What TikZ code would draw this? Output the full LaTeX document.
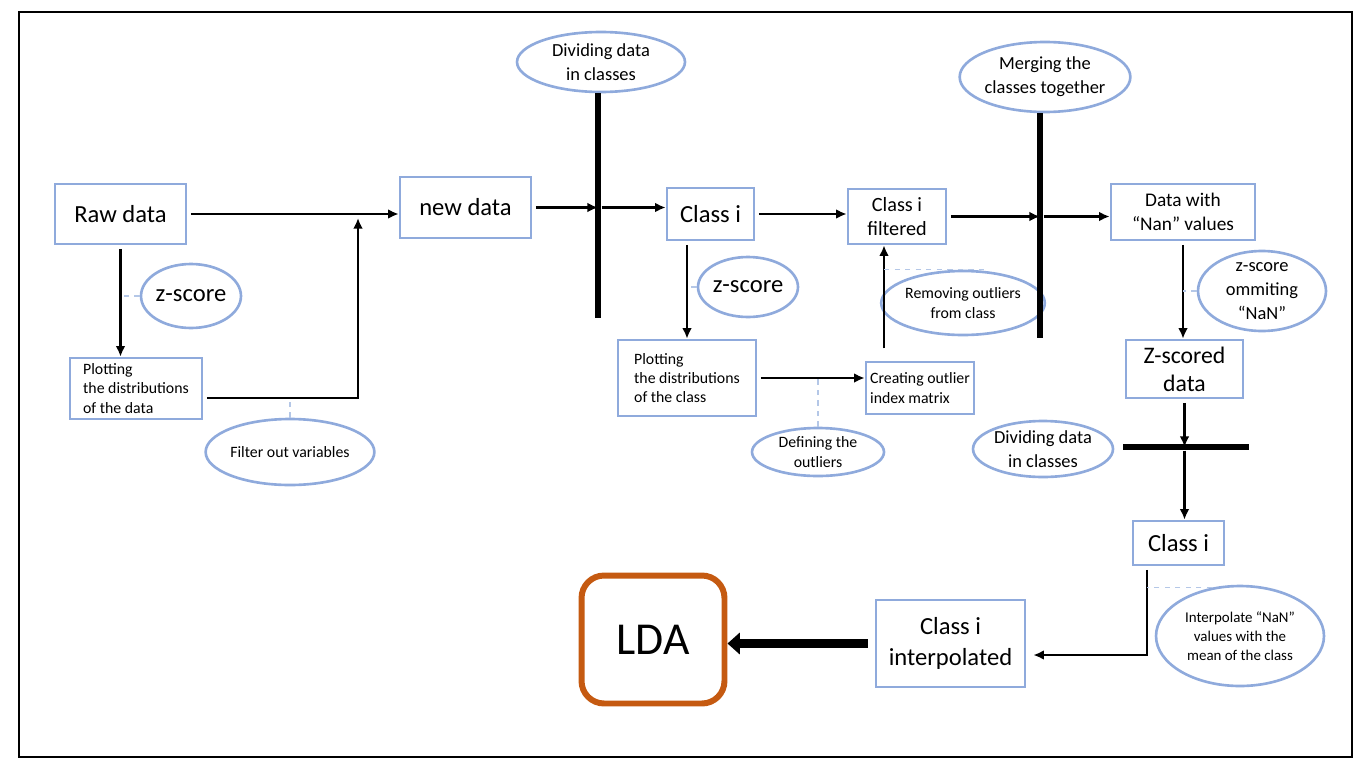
\documentclass[tikz,border=0pt]{standalone}
\usepackage{fontspec}
\setmainfont{Carlito}
\usetikzlibrary{shapes.geometric,arrows.meta}
\definecolor{boxblue}{RGB}{143,170,220}
\definecolor{hintblue}{RGB}{180,199,231}
\definecolor{ldaorange}{RGB}{197,90,17}

\begin{document}
\begin{tikzpicture}[x=0.02cm, y=-0.02cm,
    box/.style={draw=boxblue, line width=1.5pt, align=center, inner sep=2pt},
    oval/.style={ellipse, draw=boxblue, line width=1.5pt, align=center, inner sep=0pt},
    arr/.style={-{Latex[length=6pt,width=5.5pt]}, line width=1.5pt, shorten <=2pt},
    hint/.style={draw=hintblue, dashed, line width=0.8pt},
    bar/.style={line width=3.6pt},
    big/.style={font=\fontsize{14}{18}\selectfont},
    mid/.style={font=\fontsize{10.5}{13.5}\selectfont},
    small/.style={font=\fontsize{9}{11}\selectfont}]
        \useasboundingbox (0,0) rectangle (1371,764);
        \draw[line width=1.6pt] (19,12) rectangle (1352,757);

        % first stage
        \node[box, big, minimum width=2.62cm, minimum height=1.2cm] (raw) at (120.5,214) {Raw data};
        \node[box, big, minimum width=2.62cm, minimum height=1.22cm] (newd) at (465.5,207.5) {new data};
        \node[oval, big, minimum width=2cm, minimum height=1.28cm] (zs1) at (191,296) {z-score};
        \node[box, small, align=left, minimum width=2.64cm, minimum height=1.22cm] (plot1) at (136,388.5) {Plotting\\the distributions\\of the data};
        \node[oval, small, minimum width=2.64cm, minimum height=1.32cm] (fov) at (290,452) {Filter out variables};
        \coordinate (j1) at (358,218);

        \draw[arr] (raw.east) -- (raw.east -| newd.west);
        \draw[arr] (raw.south) -- (raw.south |- plot1.north);
        \draw[hint] (zs1.west) -- (zs1.west -| raw.south);
        \draw[arr] (plot1.-8) -| (j1);
        \draw[hint] (fov.north) -- (fov.north |- plot1.-8);

        % classes
        \node[oval, mid, minimum width=3.36cm, minimum height=1.2cm] (div1) at (601,62) {Dividing data\\in classes};
        \coordinate (b1) at (598,318);
        \draw[bar] (div1.south -| b1) -- (b1);
        \node[box, big, minimum width=1.74cm, minimum height=1.04cm] (cls) at (710.5,214) {Class i};
        \node[oval, big, minimum width=2cm, minimum height=1.2cm] (zs2) at (748,287) {z-score};
        \node[box, small, align=left, minimum width=2.76cm, minimum height=1.52cm] (plot2) at (687,378) {Plotting\\the distributions\\of the class};
        \node[oval, small, minimum width=2.64cm, minimum height=0.96cm] (def) at (818,452) {Defining the\\outliers};
        \node[box, small, align=left, minimum width=2.16cm, minimum height=1.04cm] (cre) at (920,388) {Creating outlier\\index matrix};
        \node[box, font=\fontsize{11.5}{14}\selectfont, minimum width=1.96cm, minimum height=1.1cm] (filt) at (897,216.5) {Class i\\filtered};
        \node[oval, small, minimum width=2.92cm, minimum height=1.28cm] (rem) at (963,303) {Removing outliers\\from class};
        \coordinate (u2) at (884,352);

        \draw[arr] (newd.east) -- (newd.east -| b1);
        \draw[arr] (newd.east -| b1) -- (newd.east -| cls.west);
        \draw[arr] (cls.south -| plot2.north) -- (plot2.north);
        \draw[hint] (zs2.west) -- (zs2.west -| plot2.north);
        \draw[arr] (plot2.east) -- (plot2.east -| cre.west);
        \draw[hint] (def.north) -- (def.north |- plot2.east);
        \draw[arr] (u2) -- (u2 |- filt.south);
        \draw[hint] (u2 |- rem.north) -- ([xshift=0.5cm]rem.north);
        \draw[arr] (cls.east) -- (cls.east -| filt.west);

        % merging
        \node[oval, mid, minimum width=3.36cm, minimum height=1.4cm] (mer) at (1045,77) {Merging the\\classes together};
        \coordinate (b2) at (1040,338);
        \draw[bar] (mer.south -| b2) -- (b2);
        \node[box, font=\fontsize{11}{14}\selectfont, minimum width=2.88cm, minimum height=1.12cm] (dat) at (1183,212) {Data with\\“Nan” values};
        \node[oval, mid, minimum width=2.56cm, minimum height=1.6cm] (zo) at (1262,291) {z-score\\ommiting\\“NaN”};
        \node[box, font=\fontsize{13.5}{16}\selectfont, minimum width=2.34cm, minimum height=1.16cm] (zsd) at (1184.5,369) {Z-scored\\data};
        \node[oval, mid, minimum width=2.8cm, minimum height=1.12cm] (div2) at (1043,449) {Dividing data\\in classes};
        \coordinate (hl) at (1123,447);
        \coordinate (hr) at (1249,447);
        \draw[bar] (hl) -- (hr);
        \node[box, big, minimum width=1.82cm, minimum height=0.88cm] (cls3) at (1178.5,543) {Class i};

        \draw[arr] (filt.east) -- (filt.east -| b2);
        \draw[arr] (filt.east -| b2) -- (filt.east -| dat.west);
        \draw[arr] (dat.south) -- (dat.south |- zsd.north);
        \draw[hint] (zo.west) -- (zo.west -| dat.south);
        \draw[arr] (zsd.south) -- (zsd.south |- hl);
        \draw[arr] (zsd.south |- hl) -- (zsd.south |- cls3.north);

        % interpolation and LDA
        \node[oval, font=\fontsize{8.5}{10.8}\selectfont, minimum width=3.36cm, minimum height=2cm] (ip) at (1240,636) {Interpolate “NaN”\\values with the\\mean of the class};
        \node[box, big, minimum width=2.98cm, minimum height=1.74cm] (interp) at (950.5,643.5) {Class i\\interpolated};
        \node[draw=ldaorange, line width=3.4pt, rounded corners=0.45cm, font=\fontsize{26}{30}\selectfont, minimum width=2.86cm, minimum height=2.56cm] (lda) at (653,639.5) {LDA};
        \coordinate (t3) at (1147,655);

        \draw[arr, shorten >=4pt] (t3 |- cls3.south) -- (t3) -- (t3 -| interp.east);
        \draw[hint] (ip.120) -- (ip.120 -| t3);
        \draw[-{Triangle[length=7pt,width=12pt]}, line width=4.6pt, shorten <=4pt] (interp.west) -- (interp.west -| lda.east);
    \end{tikzpicture}
\end{document}
